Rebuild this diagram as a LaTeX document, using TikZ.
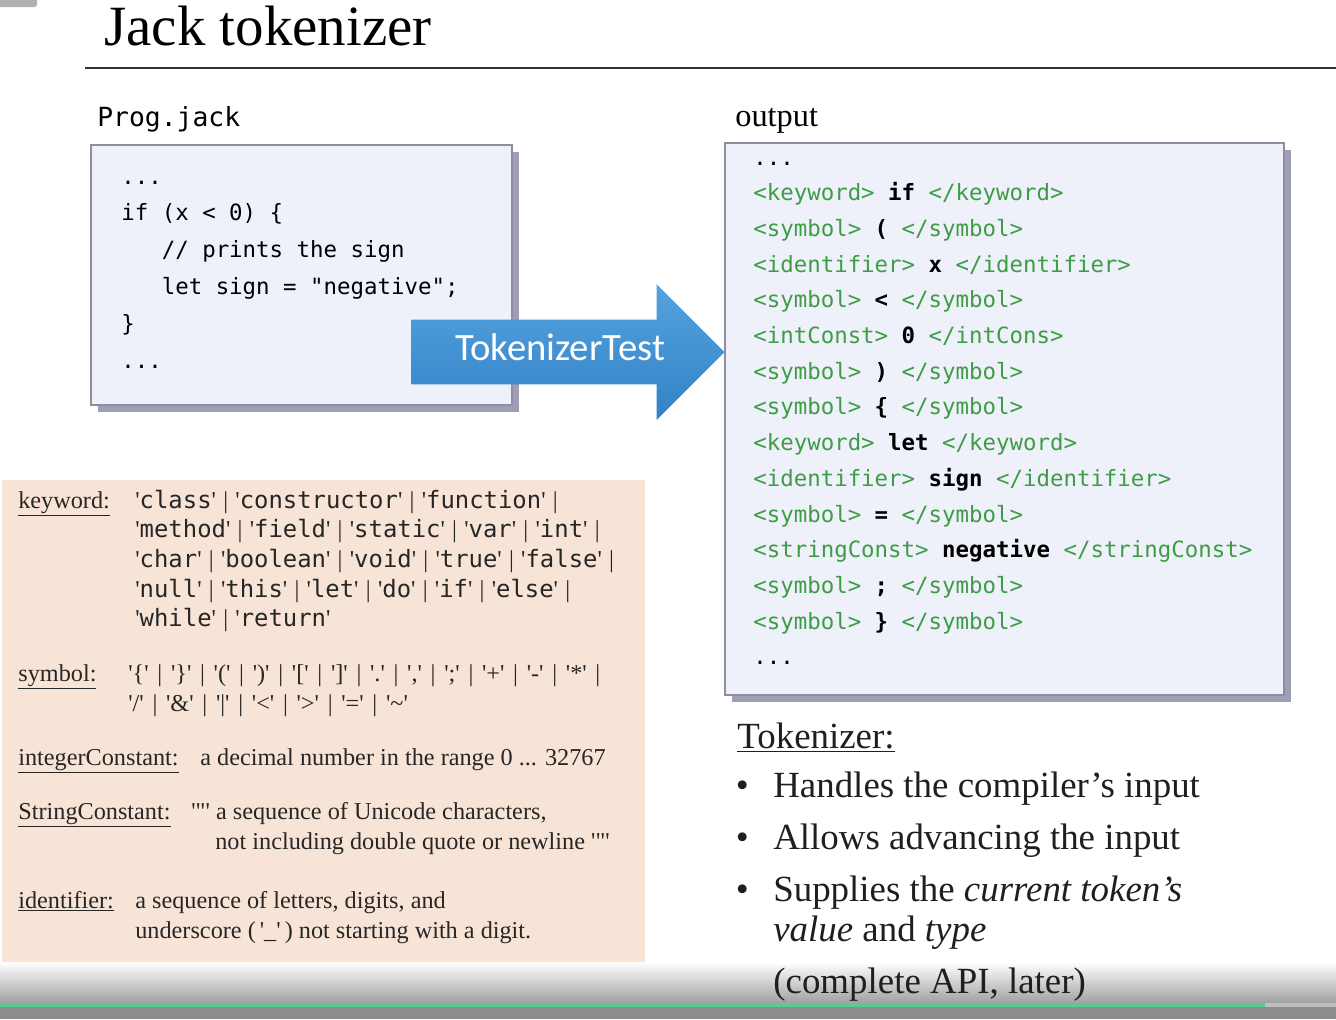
\documentclass[tikz,border=0pt]{standalone}
\usepackage{fontspec}
\setmainfont{Liberation Serif}
\newfontfamily\codefont{DejaVu Sans Mono}
\newfontfamily\calfont{Carlito}
\usetikzlibrary{positioning,shapes.arrows,shadows}
\definecolor{boxfill}{HTML}{EEF0FA}
\definecolor{boxline}{HTML}{8E8EA0}
\definecolor{boxshade}{HTML}{5E5E85}
\definecolor{peach}{HTML}{F8E4D7}
\definecolor{taggreen}{HTML}{3E9C45}
\definecolor{arrowtop}{HTML}{56A2DE}
\definecolor{arrowbot}{HTML}{3282C8}
\definecolor{progress}{HTML}{5CC98F}
\newcommand{\tg}[1]{\textcolor{taggreen}{<#1>}}
\newcommand{\sq}{\textquotesingle}
\newcommand{\kwfont}{\codefont\fontsize{13.6}{16}\selectfont}
\newcommand{\kwd}[1]{\sq{\kwfont #1}\sq}
\newcommand{\symq}[1]{\sq#1\sq}
\newcommand{\kwsep}{\hspace{0.3em}|\hspace{0.3em}}
\newcommand{\symsep}{\hspace{0.36em}|\hspace{0.36em}}
\newcommand{\ellip}{...}

\begin{document}
\begin{tikzpicture}[x=0.02cm,y=-0.02cm,
  box/.style={draw=boxline,line width=0.8pt,fill=boxfill,inner sep=0pt,
    drop shadow={shadow xshift=4pt,shadow yshift=-4pt,fill=boxshade,opacity=.6}},
  code/.style={anchor=base west,inner sep=0pt,font=\codefont\fontsize{12.75}{15}\selectfont},
  defs/.style={anchor=base west,inner sep=0pt,font=\fontsize{13.8}{16}\selectfont,text=black!85},
  point/.style={anchor=base west,inner sep=0pt,font=\fontsize{21}{25}\selectfont,text=black!88},
  bigarrow/.style={single arrow,single arrow head extend=0.71cm,minimum height=6.26cm,
    inner xsep=0pt,inner ysep=0.64cm,top color=arrowtop,bottom color=arrowbot}]
\useasboundingbox (0,0) rectangle (1336,1019);
\fill[black!30,rounded corners=1.5pt] (-10,-10) rectangle (37,7);

% ---- heading -----------------------------------------------------------
\node[anchor=base west,inner sep=0pt,font=\fontsize{32.4}{36}\selectfont] (title) at (104,45) {Jack tokenizer};
\draw[line width=1.6pt,black!80] (85,68) -- (1336,68);

% ---- the two files -----------------------------------------------------
\node[anchor=base west,inner sep=0pt,font=\codefont\fontsize{15}{18}\selectfont] (srcname) at (97,126) {Prog.jack};
\node[anchor=base west,inner sep=0pt,font=\fontsize{18.4}{22}\selectfont] (outname) at (735,126) {output};
\node[box,minimum width=8.42cm,minimum height=5.2cm] (src) at (301.5,275) {};
\node[box,minimum width=11.18cm,minimum height=11.04cm] (out) at (1004.5,419) {};

\foreach \txt [count=\i] in {{\ellip},{if (x < 0) \{},{\phantom{xxx}// prints the sign},
    {\phantom{xxx}let sign = "negative";},{\}},{\ellip}}
  \node[code] (s\i) at (121,{184+36.9*(\i-1)}) {\txt};

\foreach \txt [count=\i] in {{\ellip},
    {\tg{keyword} \textbf{if} \tg{/keyword}},
    {\tg{symbol} \textbf{(} \tg{/symbol}},
    {\tg{identifier} \textbf{x} \tg{/identifier}},
    {\tg{symbol} \textbf{<} \tg{/symbol}},
    {\tg{intConst} \textbf{0} \tg{/intCons}},
    {\tg{symbol} \textbf{)} \tg{/symbol}},
    {\tg{symbol} \textbf{\{} \tg{/symbol}},
    {\tg{keyword} \textbf{let} \tg{/keyword}},
    {\tg{identifier} \textbf{sign} \tg{/identifier}},
    {\tg{symbol} \textbf{=} \tg{/symbol}},
    {\tg{stringConst} \textbf{negative} \tg{/stringConst}},
    {\tg{symbol} \textbf{;} \tg{/symbol}},
    {\tg{symbol} \textbf{\}} \tg{/symbol}},
    {\ellip}}
  \node[code] (o\i) at (753,{165+35.7*(\i-1)}) {\txt};

% ---- the test program between them -------------------------------------
\node[bigarrow,anchor=tip] (test) at (725,352) {};
\node[inner sep=0pt,font=\calfont\fontsize{22}{26}\selectfont,text=white] (testname) at (560,347) {TokenizerTest};

% ---- lexical elements ---------------------------------------------------
\node[fill=peach,minimum width=12.86cm,minimum height=9.76cm,inner sep=0pt] (lex) at (323.5,724) {};

\node[defs] (kwlab) at (18,508) {\underline{keyword:}};
\foreach \txt [count=\i] in {
    {\kwd{class}\kwsep\kwd{constructor}\kwsep\kwd{function}\kwsep},
    {\kwd{method}\kwsep\kwd{field}\kwsep\kwd{static}\kwsep\kwd{var}\kwsep\kwd{int}\kwsep},
    {\kwd{char}\kwsep\kwd{boolean}\kwsep\kwd{void}\kwsep\kwd{true}\kwsep\kwd{false}\kwsep},
    {\kwd{null}\kwsep\kwd{this}\kwsep\kwd{let}\kwsep\kwd{do}\kwsep\kwd{if}\kwsep\kwd{else}\kwsep},
    {\kwd{while}\kwsep\kwd{return}}}
  \node[defs] (kw\i) at (135,{508+29.7*(\i-1)}) {\txt};

\node[defs] (symlab) at (18,681) {\underline{symbol:}};
\node[defs] (sym1) at (128,681) {\symq{\{}\symsep\symq{\}}\symsep\symq{(}\symsep\symq{)}\symsep\symq{[}\symsep\symq{]}\symsep\symq{.}\symsep\symq{,}\symsep\symq{;}\symsep\symq{+}\symsep\symq{-}\symsep\symq{*}\symsep};
\node[defs] (sym2) at (128,711) {\symq{/}\symsep\symq{\&}\symsep\symq{|}\symsep\symq{<}\symsep\symq{>}\symsep\symq{=}\symsep\symq{\textasciitilde}};

\node[defs] (intlab) at (18,765) {\underline{integerConstant:}};
\node[defs] (int) at (200,765) {a decimal number in the range 0 \ellip{} 32767};

\node[defs] (strlab) at (18,819) {\underline{StringConstant:}};
\node[defs] (str1) at (191,819) {\sq\textquotedbl\sq{} a sequence of Unicode characters,};
\node[defs] (str2) at (215,849) {not including double quote or newline \sq\textquotedbl\sq};

\node[defs] (idlab) at (18,908) {\underline{identifier:}};
\node[defs] (id1) at (135,908) {a sequence of letters, digits, and};
\node[defs] (id2) at (135,938) {underscore (\,\sq\_\sq\,) not starting with a digit.};

% ---- player strip at the foot ------------------------------------------
\shade[top color=white,bottom color=black!37] (0,962) rectangle (1336,1003);
\fill[progress] (0,1003) rectangle (1265,1007);
\fill[black!25] (1265,1003) rectangle (1336,1007);
\fill[black!45] (0,1007) rectangle (1336,1019);

% ---- what the tokenizer does -------------------------------------------
\node[point] (tokhead) at (737,748) {\underline{Tokenizer:}};
\node[point] (p1) at (773,797) {\llap{\textbullet\hspace{14pt}}Handles the compiler’s input};
\node[point] (p2) at (773,849) {\llap{\textbullet\hspace{14pt}}Allows advancing the input};
\node[point] (p3) at (773,901) {\llap{\textbullet\hspace{14pt}}Supplies the \textit{current token’s}};
\node[point] (p3b) at (773,941) {\textit{value} and \textit{type}};
\node[point] (p4) at (773,993) {(complete API, later)};
\end{tikzpicture}
\end{document}
